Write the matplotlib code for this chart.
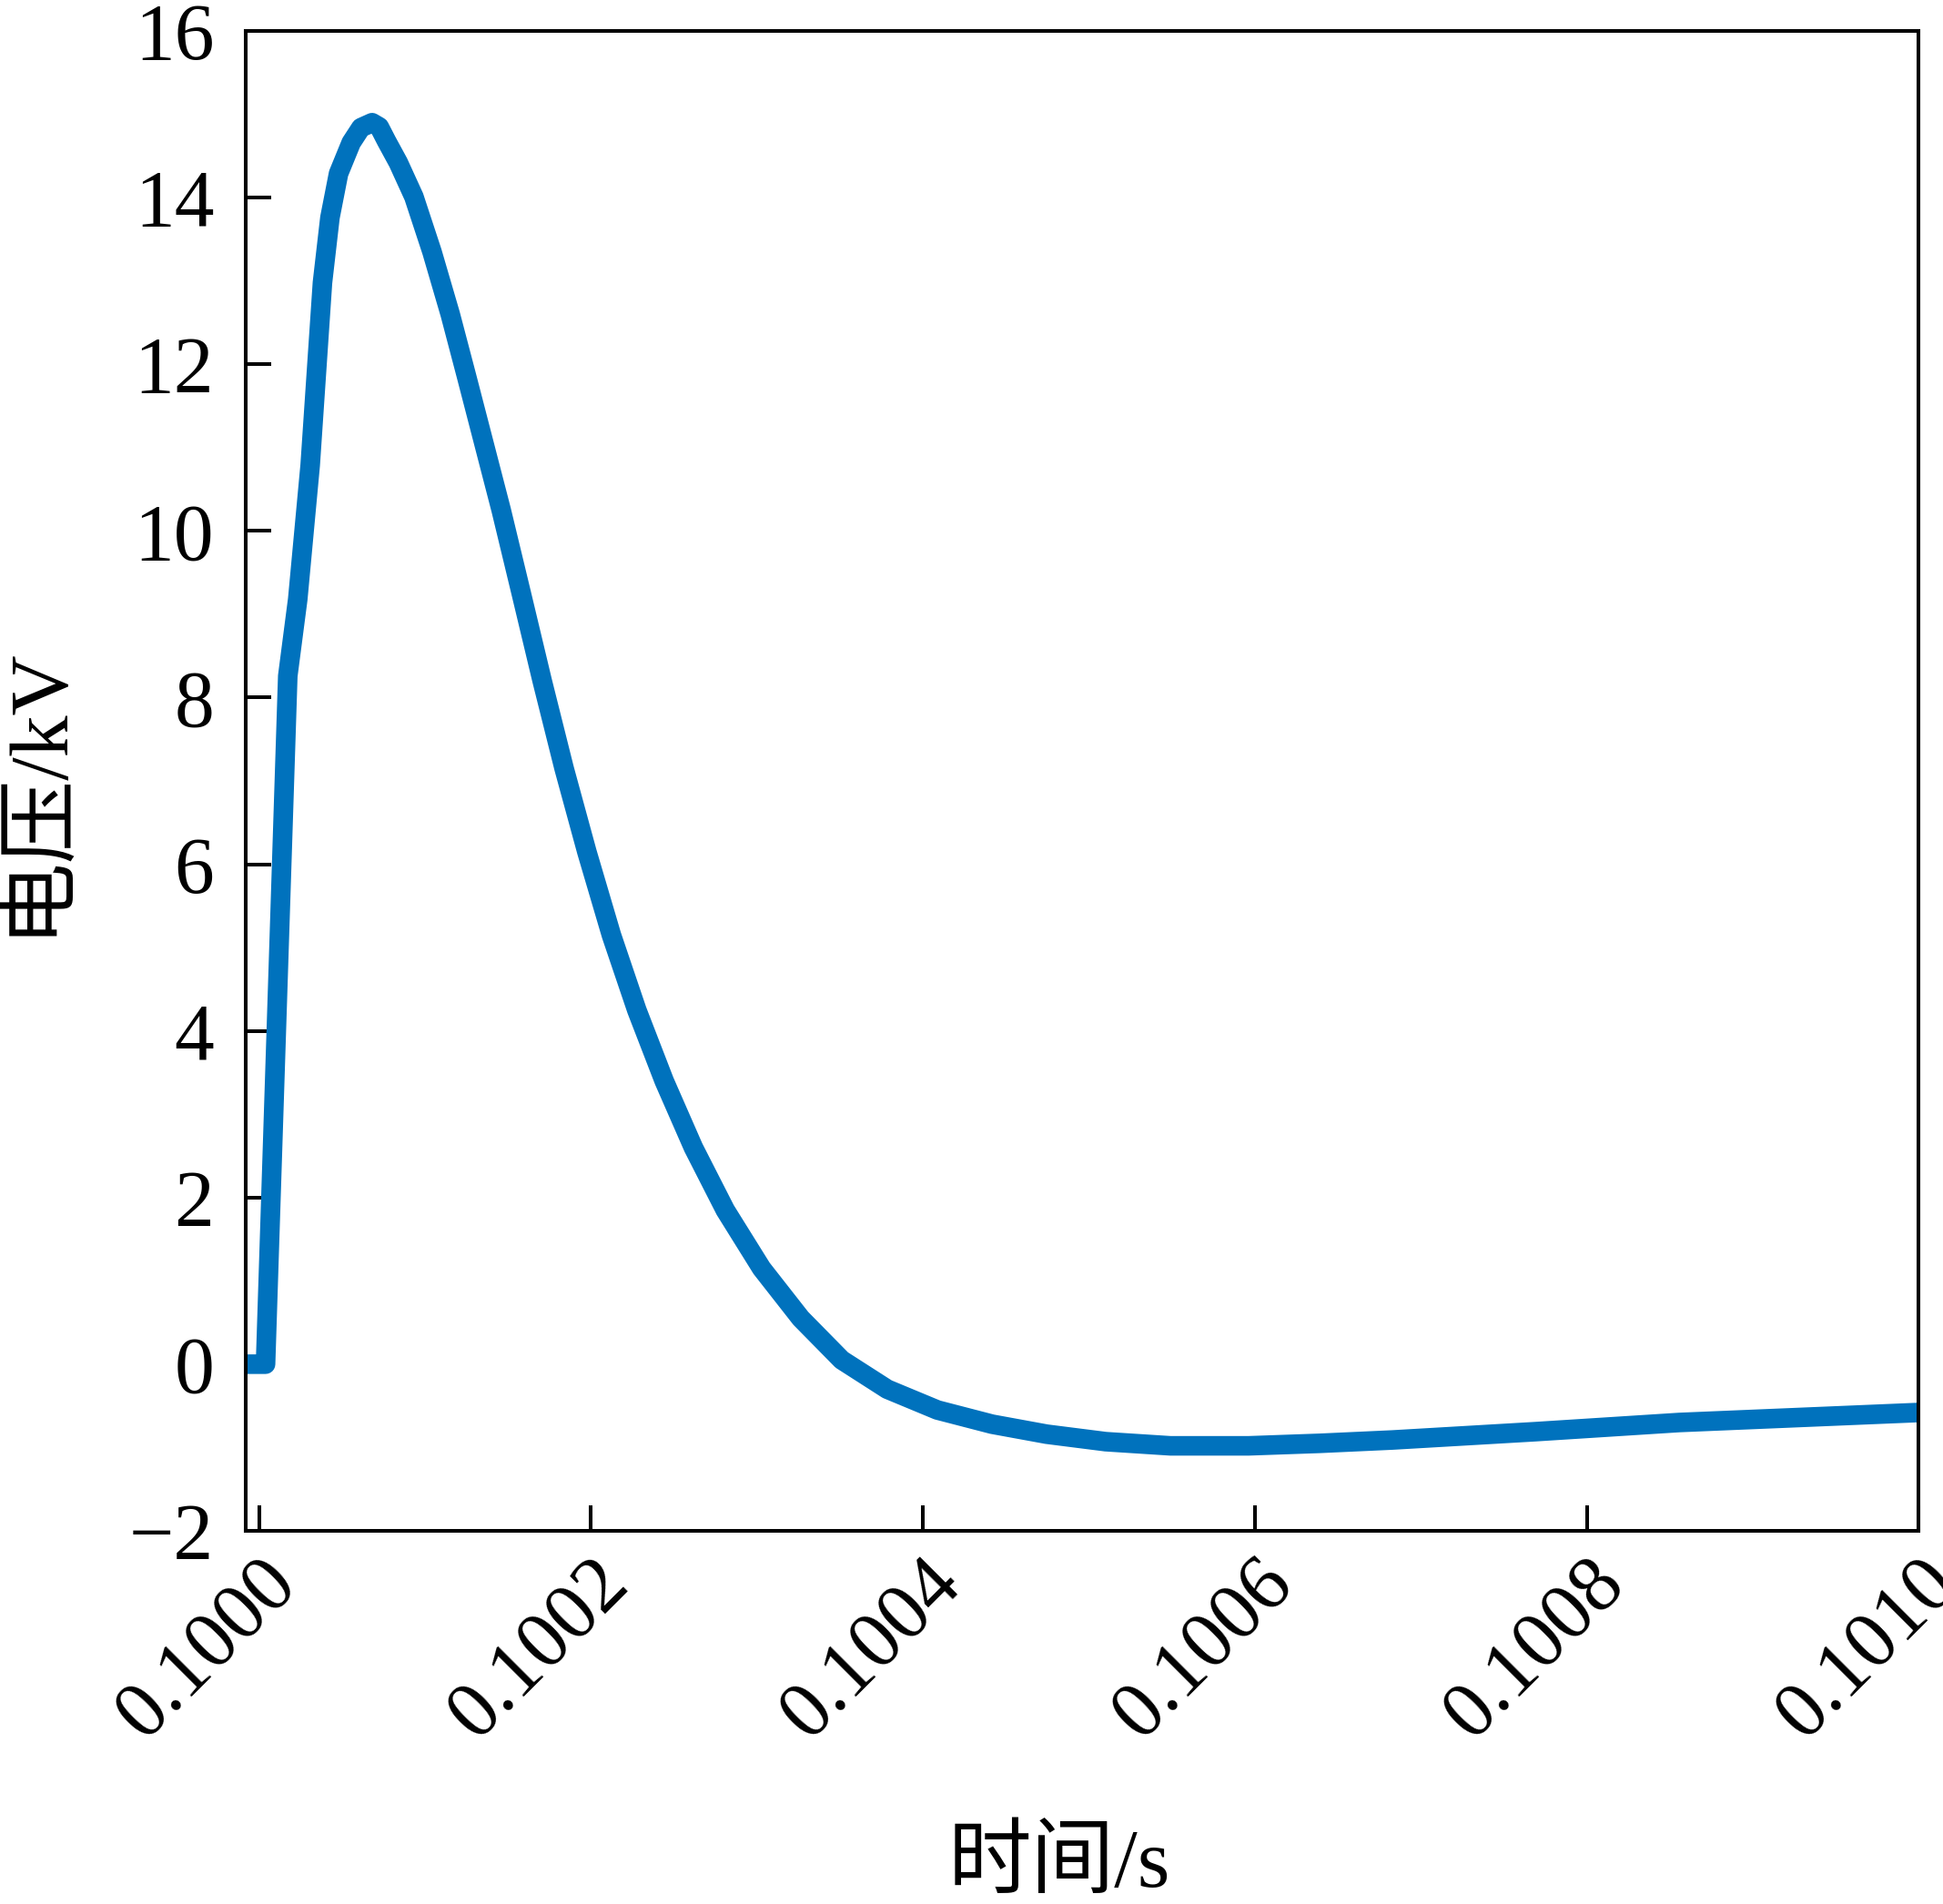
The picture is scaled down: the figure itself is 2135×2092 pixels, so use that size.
import numpy as np
import matplotlib.pyplot as plt

plt.rcParams['font.family'] = ['Liberation Serif', 'Noto Sans CJK SC']
plt.rcParams['axes.unicode_minus'] = True

# courbe (temps en s, tension en kV)
t = [0.0999900, 0.1000039, 0.1000173, 0.1000233, 0.1000308, 0.1000382,
     0.1000427, 0.1000479, 0.1000555, 0.1000614, 0.1000681, 0.1000724,
     0.1000768, 0.1000839, 0.1000933, 0.1001042, 0.1001152, 0.1001251,
     0.1001355, 0.1001459, 0.1001580, 0.1001706, 0.1001838, 0.1001975,
     0.1002123, 0.1002276, 0.1002441, 0.1002617, 0.1002809, 0.1003028,
     0.1003264, 0.1003511, 0.1003785, 0.1004087, 0.1004416, 0.1004745,
     0.1005101, 0.1005491, 0.1005963, 0.1006391, 0.1006829, 0.1007691,
     0.1008557, 0.1010000]
v = [0.0, 0.0, 8.26, 9.18, 10.79, 12.98,
     13.76, 14.29, 14.66, 14.84, 14.90, 14.85,
     14.68, 14.42, 14.01, 13.35, 12.60, 11.85,
     11.05, 10.25, 9.25, 8.20, 7.15, 6.15,
     5.15, 4.25, 3.40, 2.60, 1.85, 1.15,
     0.55, 0.05, -0.30, -0.55, -0.72, -0.84,
     -0.93, -0.98, -0.98, -0.95, -0.91, -0.81,
     -0.70, -0.58]

xticks = [0.1000, 0.1002, 0.1004, 0.1006, 0.1008, 0.1010]
xtick_labels = ['0.1000', '0.1002', '0.1004', '0.1006', '0.1008', '0.1010']
yticks = [-2, 0, 2, 4, 6, 8, 10, 12, 14, 16]

fig = plt.figure(figsize=(21.35, 20.92), dpi=100)
ax = fig.add_axes([0.1265, 0.196, 0.861, 0.7877])

ax.plot(t, v, color='#0072BD', lw=15.5, solid_joinstyle='round',
        solid_capstyle='round', zorder=2)

ax.set_xlim(0.099992, 0.101)
ax.set_ylim(-2, 16)
ax.set_xticks(xticks)
ax.set_xticklabels(xtick_labels, rotation=45, ha='right', va='top',
                   rotation_mode='anchor', fontsize=70)
ax.set_yticks(yticks)

ax.tick_params(direction='in', length=20, width=2.9, labelsize=63,
               top=False, right=False, zorder=3)
ax.tick_params(axis='x', pad=11)
ax.tick_params(axis='y', pad=25)
for s in ax.spines.values():
    s.set_linewidth(2.9)
    s.set_zorder(4)

ax.set_xlabel('时间/s', fontsize=66)
ax.set_ylabel('电压/kV', fontsize=66)
ax.xaxis.set_label_coords(0.486, -0.198)
ax.yaxis.set_label_coords(-0.102, 0.494)

fig.savefig('out.png', dpi=100)
